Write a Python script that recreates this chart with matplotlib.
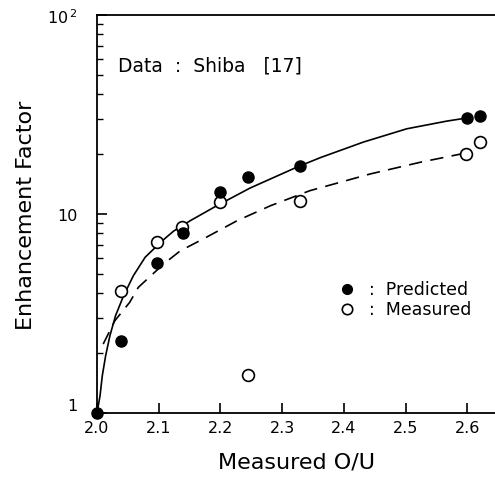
import matplotlib
matplotlib.use("Agg")
import matplotlib.pyplot as plt
from matplotlib.ticker import LogLocator, NullFormatter

# points
pred_x = [2.0, 2.039, 2.097, 2.14, 2.2, 2.245, 2.329, 2.6, 2.621]
pred_y = [1.0, 2.30, 5.7, 8.0, 12.9, 15.3, 17.4, 30.4, 31.1]

meas_x = [2.039, 2.097, 2.138, 2.2, 2.245, 2.329, 2.598, 2.621]
meas_y = [4.1, 7.2, 8.6, 11.5, 1.55, 11.6, 20.0, 23.0]

# solid curve (predicted fit)
fit_pred_x = [2.0, 2.0049, 2.0086, 2.014, 2.021, 2.030, 2.043, 2.059, 2.078,
              2.105, 2.124, 2.151, 2.194, 2.248, 2.324, 2.362, 2.432, 2.502,
              2.567, 2.6]
fit_pred_y = [1.0, 1.22, 1.54, 1.94, 2.45, 3.08, 3.88, 4.90, 6.06,
              7.3, 8.2, 9.25, 11.0, 13.5, 17.2, 19.2, 23.0, 26.8,
              29.3, 30.4]

# dashed curve (measured fit)
fit_meas_x = [2.010, 2.029, 2.053, 2.067, 2.108, 2.135, 2.172, 2.227, 2.281,
              2.345, 2.443, 2.524, 2.589, 2.6]
fit_meas_y = [2.22, 2.91, 3.6, 4.28, 5.61, 6.53, 7.49, 9.25, 11.0,
              13.1, 15.9, 18.2, 20.0, 20.3]

yticks = [1, 10, 100]
ytick_labels = ["1", "10", "10$^{\\,2}$"]
xticks = [2.0, 2.1, 2.2, 2.3, 2.4, 2.5, 2.6]


def main():
    fig = plt.figure(figsize=(4.95, 4.81), dpi=100)
    ax = fig.add_axes([97 / 495, 1 - 414 / 481, 1 - 97 / 495, (414 - 16) / 481])

    ax.plot(fit_pred_x, fit_pred_y, "-", color="black", lw=1.2)
    ax.plot(fit_meas_x, fit_meas_y, "--", color="black", lw=1.2, dashes=(8, 5))

    ax.plot(pred_x, pred_y, "o", color="black", ms=8, clip_on=False, zorder=5)
    ax.plot(meas_x, meas_y, "o", mfc="white", mec="black", mew=1.2, ms=8.5,
            clip_on=False, zorder=4)

    ax.set_yscale("log")
    ax.set_ylim(1, 100)
    ax.set_xlim(2.0, 2.645)

    ax.set_yticks(yticks)
    ax.set_yticklabels(ytick_labels)
    ax.yaxis.set_minor_locator(LogLocator(base=10, subs=range(2, 10)))
    ax.yaxis.set_minor_formatter(NullFormatter())
    ax.set_xticks(xticks)
    ax.set_xticklabels([f"{v:.1f}" for v in xticks])

    ax.tick_params(which="major", direction="in", length=7, width=1.2,
                   labelsize=11.5)
    ax.tick_params(which="minor", direction="in", length=4, width=1)
    ax.tick_params(axis="x", pad=5)
    ax.tick_params(axis="y", pad=14)
    ax.get_yticklabels()[0].set_va("bottom")

    ax.spines["right"].set_visible(False)
    for s in ["left", "bottom", "top"]:
        ax.spines[s].set_linewidth(1.3)

    ax.set_xlabel("Measured O/U", fontsize=16, labelpad=12)
    ax.set_ylabel("Enhancement Factor", fontsize=16, labelpad=8)

    ax.text(2.034, 56, "Data  :  Shiba   [17]", fontsize=13.5, va="center")

    ax.plot([2.405], [4.2], "o", color="black", ms=7)
    ax.text(2.44, 4.2, ":  Predicted", fontsize=12.5, va="center")
    ax.plot([2.405], [3.33], "o", mfc="white", mec="black", mew=1.2, ms=7.5)
    ax.text(2.44, 3.33, ":  Measured", fontsize=12.5, va="center")

    fig.savefig("out.png", dpi=100)


if __name__ == "__main__":
    main()
